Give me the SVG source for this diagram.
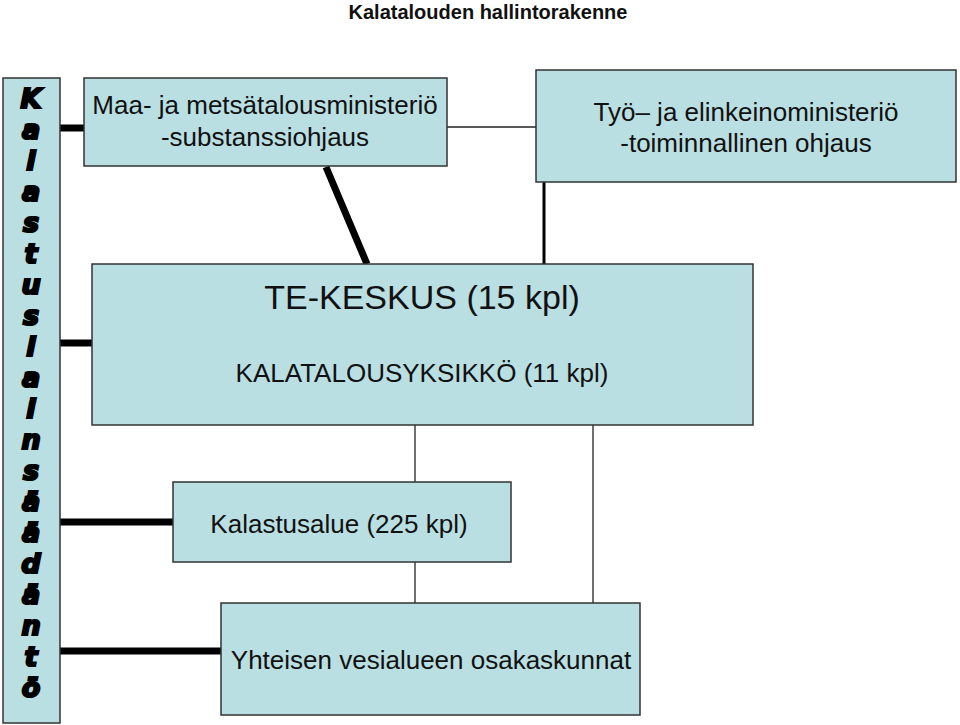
<svg xmlns="http://www.w3.org/2000/svg" width="960" height="725" viewBox="0 0 960 725">
<style>
.box{fill:#badfe2;stroke:#333;stroke-width:1.5}
.t{font-family:"Liberation Sans",Arial,sans-serif;fill:#111;text-anchor:middle}
.v{font-family:"DejaVu Sans",sans-serif;font-weight:bold;font-style:italic;font-size:27px;fill:#000;text-anchor:middle;stroke:#000;stroke-width:2.2}
.thick{stroke:#000;stroke-width:7;fill:none}
.thin{stroke:#222;stroke-width:1.3;fill:none}
</style>
<rect width="960" height="725" fill="#fff"/>
<text class="t" x="488" y="19" font-size="20" font-weight="bold">Kalatalouden hallintorakenne</text>
<g id="connectors">
<line class="thick" x1="60" y1="128" x2="84" y2="128"/>
<line class="thick" x1="60" y1="343" x2="92" y2="343"/>
<line class="thick" x1="60" y1="522" x2="173" y2="522"/>
<line class="thick" x1="60" y1="651" x2="221" y2="651"/>
<line class="thin" x1="447" y1="127" x2="536" y2="127"/>
<line stroke="#000" stroke-width="7" x1="326" y1="167" x2="367" y2="264"/>
<line stroke="#000" stroke-width="3" x1="544" y1="182" x2="544" y2="264"/>
<line class="thin" x1="415" y1="425" x2="415" y2="482"/>
<line class="thin" x1="415" y1="562" x2="415" y2="603"/>
<line class="thin" x1="593" y1="425" x2="593" y2="603"/>
</g>
<g id="lainsaadanto">
<rect class="box" x="3" y="78" width="57" height="645"/>
<g class="v">
<text x="31" y="108">K</text><text x="31" y="139">a</text><text x="31" y="170">l</text><text x="31" y="201">a</text><text x="31" y="232">s</text><text x="31" y="263">t</text><text x="31" y="294">u</text><text x="31" y="325">s</text><text x="31" y="356">l</text><text x="31" y="387">a</text><text x="31" y="418">i</text><text x="31" y="449">n</text><text x="31" y="480">s</text><text x="31" y="511">ä</text><text x="31" y="542">ä</text><text x="31" y="573">d</text><text x="31" y="604">ä</text><text x="31" y="635">n</text><text x="31" y="666">t</text><text x="31" y="697">ö</text>
</g>
</g>
<g id="mmm">
<rect class="box" x="84" y="78" width="363" height="88"/>
<text class="t" x="265" y="114" font-size="26">Maa- ja metsätalousministeriö</text>
<text class="t" x="265" y="146" font-size="26">-substanssiohjaus</text>
</g>
<g id="tem">
<rect class="box" x="536" y="70" width="420" height="112"/>
<text class="t" x="746" y="121" font-size="26">Työ– ja elinkeinoministeriö</text>
<text class="t" x="746" y="152" font-size="26">-toiminnallinen ohjaus</text>
</g>
<g id="tekeskus">
<rect class="box" x="92" y="264" width="661" height="161"/>
<text class="t" x="422" y="309" font-size="34">TE-KESKUS (15 kpl)</text>
<text class="t" x="422" y="382" font-size="26">KALATALOUSYKSIKKÖ (11 kpl)</text>
</g>
<g id="kalastusalue">
<rect class="box" x="173" y="482" width="338" height="80"/>
<text class="t" x="339" y="533" font-size="26">Kalastusalue (225 kpl)</text>
</g>
<g id="osakaskunnat">
<rect class="box" x="221" y="603" width="419" height="112"/>
<text class="t" x="431" y="669" font-size="26">Yhteisen vesialueen osakaskunnat</text>
</g>
</svg>
